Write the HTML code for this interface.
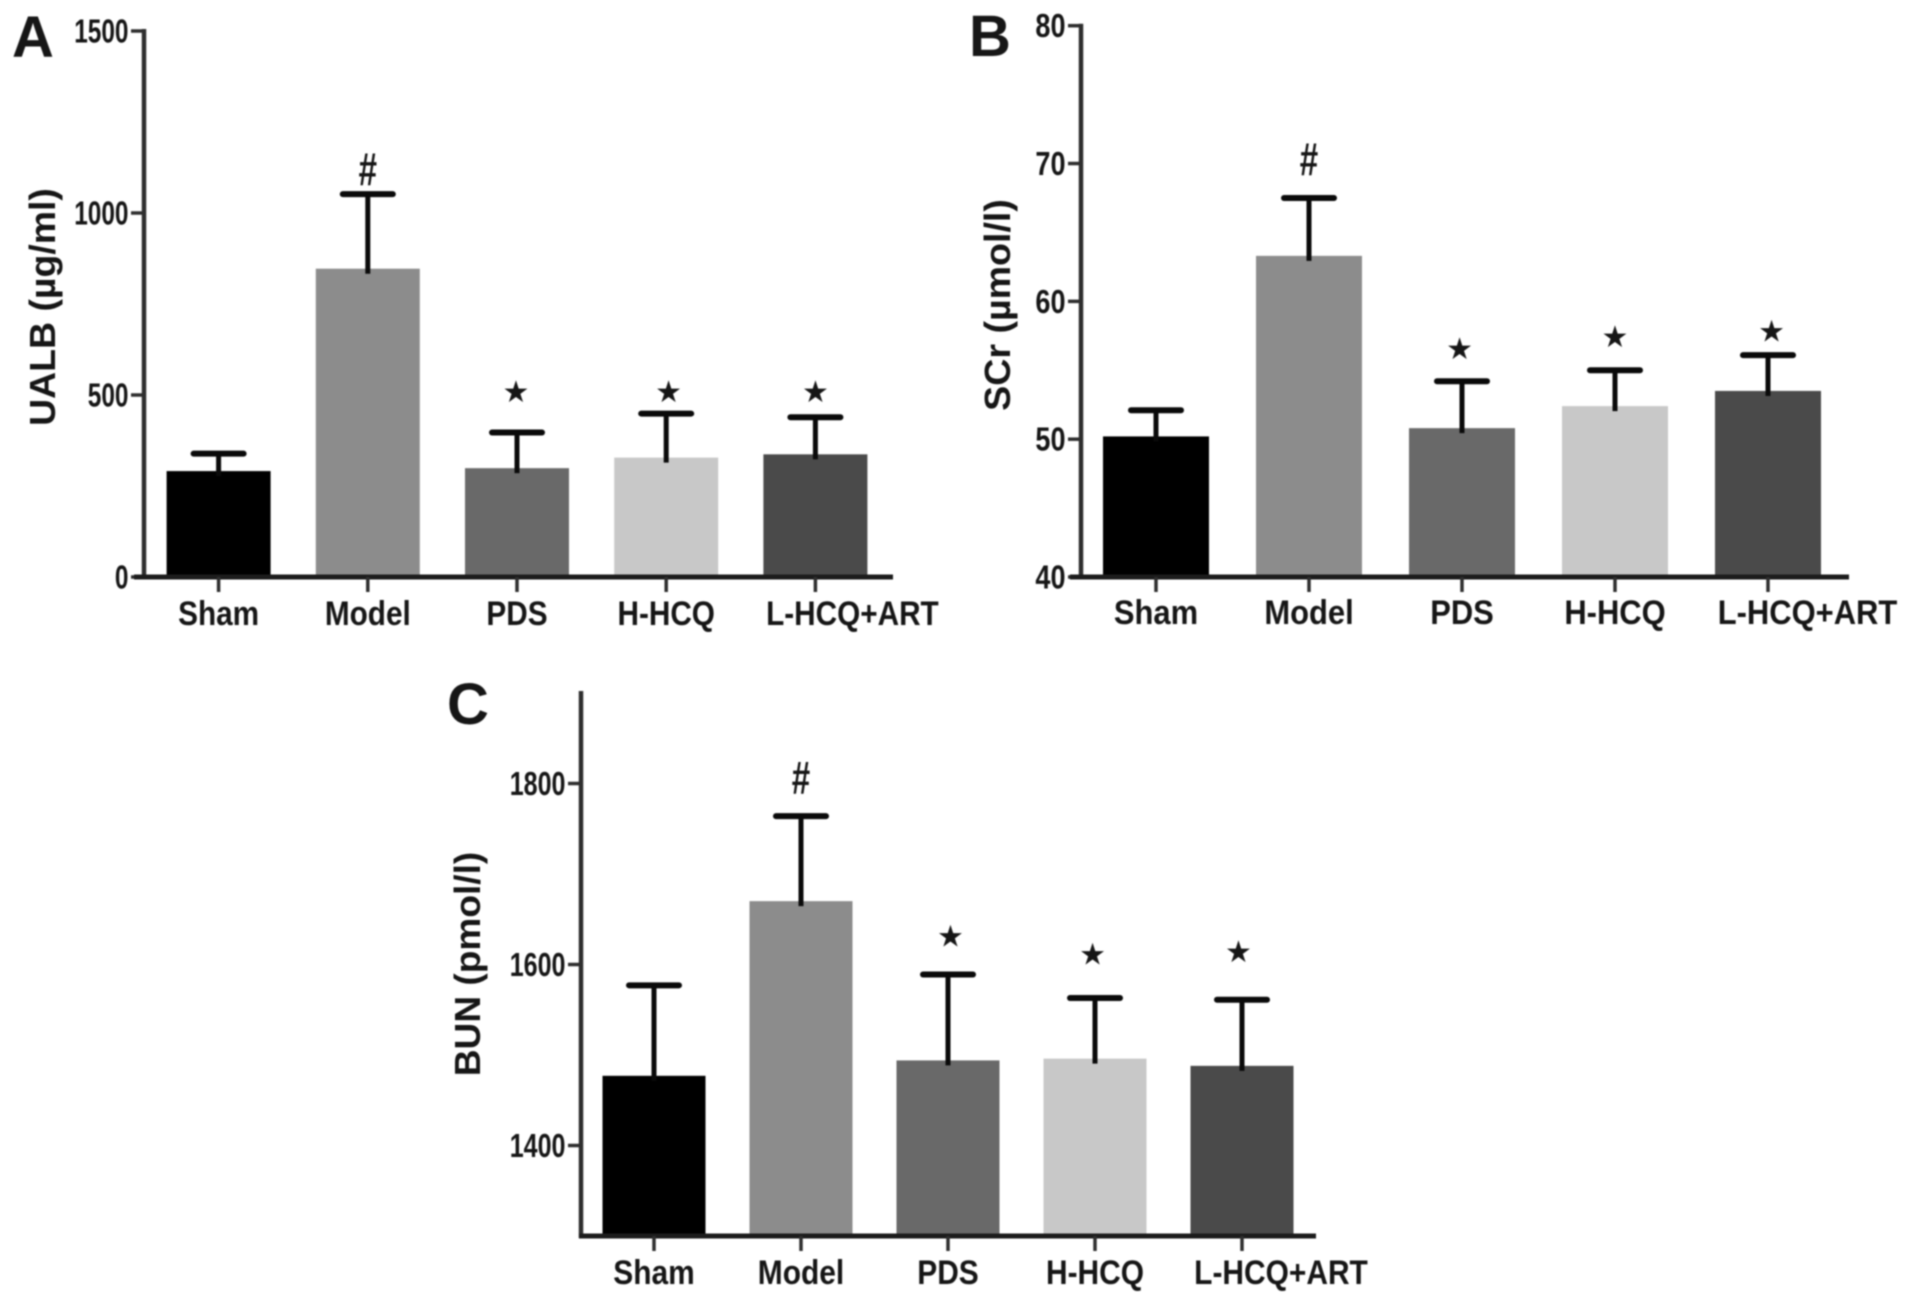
<!DOCTYPE html>
<html lang="en">
<head>
<meta charset="utf-8">
<title>UALB, SCr and BUN by treatment group</title>
<style>
  html, body { margin: 0; padding: 0; background: #fff; }
  body { width: 1912px; height: 1299px; overflow: hidden; }
  #figure { display: block; filter: blur(0.9px); }
  text { font-family: "Liberation Sans", sans-serif; fill: #161616; }
</style>
</head>
<body>
<svg id="figure" xmlns="http://www.w3.org/2000/svg" width="1912" height="1299" viewBox="0 0 1912 1299"></svg>
<script>
const categories = ['Sham', 'Model', 'PDS', 'H-HCQ', 'L-HCQ+ART'];
const barFills = ['#000000', '#8c8c8c', '#696969', '#c8c8c8', '#4a4a4a'];
const markerGlyphs = ['', '#', '★', '★', '★'];

const ualbTicks = [0, 500, 1000, 1500];
const ualbMeans = [291, 847, 299, 328, 337];
const ualbUpper = [339, 1052, 397, 449, 439];
const ualbMarkerLevels = [null, 1124, 511, 511, 511];

const scrTicks = [40, 50, 60, 70, 80];
const scrMeans = [50.2, 63.3, 50.8, 52.4, 53.5];
const scrUpper = [52.1, 67.5, 54.2, 55.0, 56.1];
const scrMarkerLevels = [null, 70.4, 56.6, 57.5, 57.9];

const bunTicks = [1400, 1600, 1800];
const bunMeans = [1477, 1670, 1494, 1496, 1488];
const bunUpper = [1577, 1764, 1589, 1563, 1561];
const bunMarkerLevels = [null, 1808, 1632, 1612, 1615];

const svg = document.getElementById('figure');
const NS = 'http://www.w3.org/2000/svg';

function shape(parent, tag, attrs) {
  const el = document.createElementNS(NS, tag);
  for (const k in attrs) el.setAttribute(k, attrs[k]);
  parent.appendChild(el);
  return el;
}

function label(parent, str, x, y, size, weight, anchor, sx, sy, rotate) {
  const el = document.createElementNS(NS, 'text');
  el.textContent = str;
  el.setAttribute('font-size', size);
  el.setAttribute('font-weight', weight);
  el.setAttribute('text-anchor', anchor);
  el.setAttribute('transform', 'translate(' + x + ' ' + y + ')' + (rotate ? ' rotate(' + rotate + ')' : '') + ' scale(' + sx + ' ' + sy + ')');
  parent.appendChild(el);
  return el;
}

function drawPanel(cfg) {
  const g = shape(svg, 'g', {});
  
  

  const xAt = i => cfg.firstCenter + i * cfg.step;
  const yAt = v => cfg.baseY + (v - cfg.yMin) * (cfg.topY - cfg.baseY) / (cfg.yMax - cfg.yMin);

  const letter = label(g, cfg.letter, cfg.letterX, cfg.letterY, 58, 'bold', 'start', 1, 1);
  
  

  // bars
  cfg.means.forEach((m, i) => {
    const bar = shape(g, 'rect', {
      x: xAt(i) - cfg.barW / 2,
      y: yAt(m),
      width: cfg.barW,
      height: cfg.baseY - yAt(m),
      fill: barFills[i]
    });
    
    
  });

  // error bars
  cfg.upper.forEach((u, i) => {
    const stem = shape(g, 'line', {
      x1: xAt(i), x2: xAt(i), y1: yAt(u), y2: yAt(cfg.means[i]) + 5,
      stroke: '#0a0a0a', 'stroke-width': 5
    });
    
    
    const cap = shape(g, 'line', {
      x1: xAt(i) - 25, x2: xAt(i) + 25, y1: yAt(u), y2: yAt(u),
      stroke: '#0a0a0a', 'stroke-width': 6, 'stroke-linecap': 'round'
    });
    
    
  });

  // significance markers
  cfg.markers.forEach((lvl, i) => {
    if (lvl === null) return;
    const glyph = markerGlyphs[i];
    const isHash = glyph === '#';
    const mx = xAt(i) + cfg.markerNudge(i);
    const m = isHash
      ? label(g, glyph, mx, yAt(lvl) + 17, 46, 'bold', 'middle', 0.72, 1)
      : label(g, glyph, mx, yAt(lvl) + 11, 30, 'normal', 'middle', 1, 1);
    if (!isHash) m.setAttribute('style', 'font-family:"DejaVu Sans",sans-serif');
    
    
  });

  // y axis
  const yAxis = shape(g, 'line', {
    x1: cfg.axisX, x2: cfg.axisX, y1: cfg.topY - 2, y2: cfg.baseY + 2,
    stroke: '#2e2e2e', 'stroke-width': 4.5
  });
  
  

  cfg.ticks.forEach(t => {
    const tick = shape(g, 'line', {
      x1: cfg.axisX - 13, x2: cfg.axisX, y1: yAt(t), y2: yAt(t),
      stroke: '#2e2e2e', 'stroke-width': 3.5
    });
    
    
    const txt = label(g, String(t), cfg.axisX - 15.5, yAt(t) + 11.5, 33, 'bold', 'end', cfg.tickScale, 1);
    
    
  });

  // x axis
  const xAxis = shape(g, 'line', {
    x1: cfg.xAxisStart, x2: cfg.xAxisEnd, y1: cfg.baseY, y2: cfg.baseY,
    stroke: '#1c1c1c', 'stroke-width': 5
  });
  
  

  categories.forEach((c, i) => {
    const tick = shape(g, 'line', {
      x1: xAt(i), x2: xAt(i), y1: cfg.baseY, y2: cfg.baseY + 15,
      stroke: '#2e2e2e', 'stroke-width': 3.5
    });
    
    
    const lx = xAt(i) + (i === categories.length - 1 ? cfg.lastLabelShift : 0);
    const txt = label(g, c, lx, cfg.catY, 34, 'bold', 'middle', cfg.catScale, 1);
    
    
  });

  const title = label(g, cfg.title, cfg.titleX, cfg.titleY, 36, 'bold', 'middle', cfg.titleStretch, 1, -90);
  
  
}

drawPanel({
  id: 'ualb', letter: 'A', letterX: 12, letterY: 57, title: 'UALB (µg/ml)',
  titleX: 55, titleY: 307, titleStretch: 1.04,
  means: ualbMeans, upper: ualbUpper, markers: ualbMarkerLevels, ticks: ualbTicks,
  yMin: 0, yMax: 1500, baseY: 577, topY: 31,
  axisX: 144, xAxisStart: 134, xAxisEnd: 893,
  firstCenter: 218.6, step: 149.2, barW: 104, catY: 625,
  tickScale: 0.74, catScale: 0.875, lastLabelShift: 37,
  markerNudge: i => [0, 0, -1, 2.4, 0][i]
});

drawPanel({
  id: 'scr', letter: 'B', letterX: 969, letterY: 56, title: 'SCr (µmol/l)',
  titleX: 1010, titleY: 305, titleStretch: 1.045,
  means: scrMeans, upper: scrUpper, markers: scrMarkerLevels, ticks: scrTicks,
  yMin: 40, yMax: 80, baseY: 577, topY: 25.7,
  axisX: 1081, xAxisStart: 1070, xAxisEnd: 1849,
  firstCenter: 1156, step: 153, barW: 106, catY: 624,
  tickScale: 0.82, catScale: 0.91, lastLabelShift: 39.5,
  markerNudge: i => [0, 0, -2.4, 0, 3.6][i]
});

drawPanel({
  id: 'bun', letter: 'C', letterX: 447, letterY: 724, title: 'BUN (pmol/l)',
  titleX: 480, titleY: 964, titleStretch: 1.03,
  means: bunMeans, upper: bunUpper, markers: bunMarkerLevels, ticks: bunTicks,
  yMin: 1300, yMax: 1900, baseY: 1236, topY: 693,
  axisX: 581, xAxisStart: 579, xAxisEnd: 1316,
  firstCenter: 654, step: 147, barW: 103, catY: 1284,
  tickScale: 0.76, catScale: 0.88, lastLabelShift: 39,
  markerNudge: i => [0, 0, 2.4, -2.4, -3.6][i]
});
</script>
</body>
</html>
